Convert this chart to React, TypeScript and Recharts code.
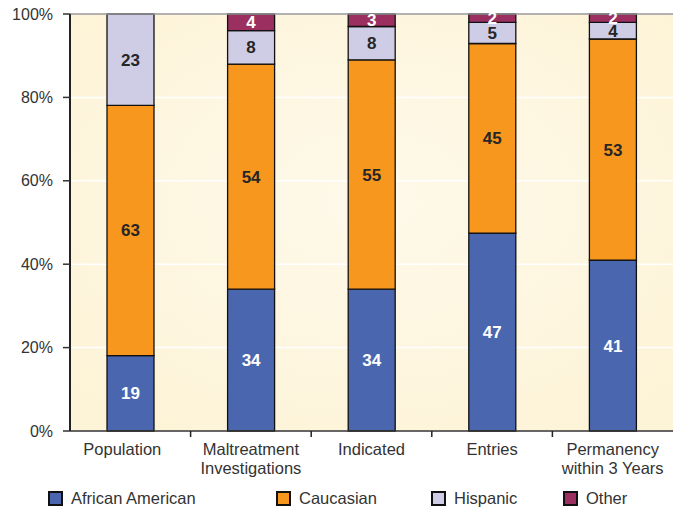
import React from 'react'
import {
  BarChart,
  Bar,
  XAxis,
  YAxis,
  CartesianGrid,
  LabelList,
  ReferenceLine,
} from 'recharts'

const categories = [
  'Population',
  'Maltreatment\nInvestigations',
  'Indicated',
  'Entries',
  'Permanency\nwithin 3 Years',
]
const africanAmerican = [19, 34, 34, 47, 41]
const caucasian = [63, 54, 55, 45, 53]
const hispanic = [23, 8, 8, 5, 4]
const other = [0, 4, 3, 2, 2]
const yTicks = [0, 0.2, 0.4, 0.6, 0.8, 1]

const data = categories.map((name, i) => ({
  name,
  aa: africanAmerican[i],
  cau: caucasian[i],
  his: hispanic[i],
  oth: other[i],
}))

const series = [
  { key: 'aa', label: 'African American', color: '#4A66AE', text: '#ffffff' },
  { key: 'cau', label: 'Caucasian', color: '#F7971E', text: '#262626' },
  { key: 'his', label: 'Hispanic', color: '#CFCDE5', text: '#262626' },
  { key: 'oth', label: 'Other', color: '#9A2F60', text: '#ffffff' },
]

const FONT = 'Liberation Sans, Arial, sans-serif'
const BAND = (673 - 70) / categories.length

function CategoryTick(props: any) {
  const { x, y, payload, index } = props
  const lines = String(payload.value).split('\n')
  const last = index === categories.length - 1
  return (
    <g>
      {!last && (
        <line
          x1={x + BAND / 2}
          x2={x + BAND / 2}
          y1={y - 8}
          y2={y - 2}
          stroke="#222"
          strokeWidth={1.5}
        />
      )}
      <text
        x={x}
        y={y + 16}
        textAnchor="middle"
        fontFamily={FONT}
        fontSize={16.5}
        fill="#333"
      >
        {lines.map((l, k) => (
          <tspan key={k} x={index === 0 ? x - 8 : x} dy={k === 0 ? 0 : 19}>
            {l}
          </tspan>
        ))}
      </text>
    </g>
  )
}

function makeLabel(color: string) {
  return (props: any) => {
    const { x, y, width, height, value } = props
    if (!value) return null
    return (
      <text
        x={x + width / 2}
        y={y + height / 2 + 6}
        textAnchor="middle"
        fontFamily={FONT}
        fontWeight="bold"
        fontSize={17}
        fill={color}
      >
        {value}
      </text>
    )
  }
}

export default function App() {
  return (
    <div
      style={{
        position: 'absolute',
        left: 0,
        top: 0,
        width: 673,
        height: 510,
        background: '#fff',
        fontFamily: FONT,
      }}
    >
      <BarChart
        width={673}
        height={510}
        data={data}
        stackOffset="expand"
        margin={{ top: 14, right: 0, left: 0, bottom: 29 }}
        barSize={47}
      >
        <defs>
          <radialGradient id="plotBg" cx="50%" cy="45%" r="70%">
            <stop offset="0%" stopColor="#FEF9EA" />
            <stop offset="100%" stopColor="#FDF3D6" />
          </radialGradient>
        </defs>
        <CartesianGrid
          vertical={false}
          stroke="#ffffff"
          strokeWidth={1.5}
          fill="url(#plotBg)"
        />
        <ReferenceLine y={1} stroke="#999" strokeWidth={1.5} />
        <XAxis
          dataKey="name"
          interval={0}
          height={50}
          tick={<CategoryTick />}
          tickLine={false}
          axisLine={{ stroke: '#333', strokeWidth: 1.5 }}
        />
        <YAxis
          width={70}
          ticks={yTicks}
          domain={[0, 1]}
          tickFormatter={(v: number) => `${Math.round(v * 100)}%`}
          tick={{ fontFamily: FONT, fontSize: 16, fill: '#333' }}
          tickLine={{ stroke: '#333', strokeWidth: 1.5 }}
          tickSize={7}
          tickMargin={10}
          axisLine={{ stroke: '#222', strokeWidth: 2 }}
        />
        {series.map((s) => (
          <Bar
            key={s.key}
            dataKey={s.key}
            stackId="a"
            fill={s.color}
            stroke="#111"
            strokeWidth={1.3}
            isAnimationActive={false}
          >
            <LabelList dataKey={s.key} content={makeLabel(s.text)} />
          </Bar>
        ))}
      </BarChart>
      <div
        style={{
          position: 'absolute',
          top: 489,
          left: 0,
          width: 673,
          height: 20,
        }}
      >
        {series.map((s, i) => (
          <div
            key={s.key}
            style={{
              position: 'absolute',
              left: [48, 276, 431, 563][i],
              top: 0,
              display: 'flex',
              alignItems: 'center',
              fontSize: 16.5,
              color: '#333',
              whiteSpace: 'nowrap',
            }}
          >
            <span
              style={{
                display: 'inline-block',
                width: 11,
                height: 11,
                background: s.color,
                border: '2px solid #111',
                marginRight: 8,
              }}
            />
            {s.label}
          </div>
        ))}
      </div>
    </div>
  )
}
